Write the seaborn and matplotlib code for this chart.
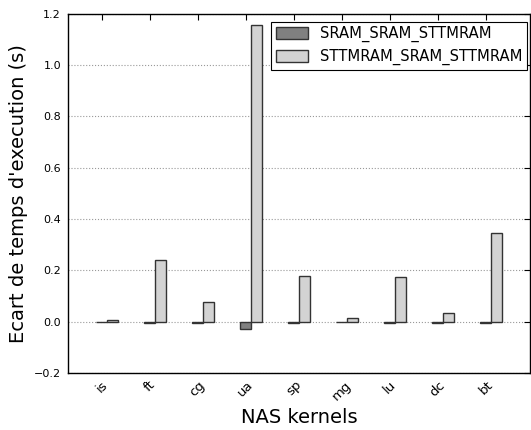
import matplotlib
matplotlib.use("Agg")
import matplotlib.pyplot as plt
import seaborn as sns
import pandas as pd
import numpy as np

kernels = ["is", "ft", "cg", "ua", "sp", "mg", "lu", "dc", "bt"]
sram_sram_sttmram = [-0.002, -0.007, -0.004, -0.030, -0.004, -0.002, -0.004, -0.004, -0.004]
sttmram_sram_sttmram = [0.005, 0.238, 0.078, 1.155, 0.178, 0.013, 0.175, 0.035, 0.345]
series_names = ["SRAM_SRAM_STTMRAM", "STTMRAM_SRAM_STTMRAM"]
colors = ["#808080", "#d3d3d3"]

df = pd.DataFrame({
    "kernel": kernels * 2,
    "value": sram_sram_sttmram + sttmram_sram_sttmram,
    "config": [series_names[0]] * len(kernels) + [series_names[1]] * len(kernels),
})

sns.set_style("white")
plt.rcParams["font.family"] = ["DejaVu Sans"]
plt.rcParams["text.color"] = "black"
plt.rcParams["axes.labelcolor"] = "black"
plt.rcParams["xtick.color"] = "black"
plt.rcParams["ytick.color"] = "black"

fig, ax = plt.subplots(figsize=(5.31, 4.30), dpi=100)
fig.subplots_adjust(left=0.128, right=0.998, top=0.968, bottom=0.133)

group_width = 0.46
sns.barplot(data=df, x="kernel", y="value", hue="config", order=kernels,
            hue_order=series_names, palette=colors, width=group_width, gap=0,
            edgecolor="#333333", linewidth=1.0, saturation=1, ax=ax,
            errorbar=None)

shift = group_width / 4
ax.set_xticks(np.arange(len(kernels)) - shift)
ax.set_xticklabels(kernels)
ax.set_xlim(-0.70 - shift, 8.92 - shift)
ax.set_ylim(-0.2, 1.2)
ax.set_yticks([-0.2, 0.0, 0.2, 0.4, 0.6, 0.8, 1.0, 1.2])
ax.set_yticklabels(["\u22120.2", "0.0", "0.2", "0.4", "0.6", "0.8", "1.0", "1.2"])
ax.yaxis.grid(True, linestyle=":", color="#999999", linewidth=0.8)
ax.set_axisbelow(True)

for s in ax.spines.values():
    s.set_visible(True)
    s.set_color("black")
    s.set_linewidth(1.0)

ax.tick_params(axis="both", which="major", direction="in", length=4, width=0.8,
               top=True, right=True, pad=5, color="black")
ax.tick_params(axis="y", labelsize=8)
ax.tick_params(axis="x", labelsize=9.5, pad=4)
plt.setp(ax.get_xticklabels(), rotation=45)

ax.set_xlabel("NAS kernels", fontsize=14)
ax.set_ylabel("Ecart de temps d'execution (s)", fontsize=14)

leg = ax.legend(loc="upper right", bbox_to_anchor=(0.9935, 0.978), fontsize=10.6,
                frameon=True, fancybox=False, edgecolor="black", framealpha=1,
                borderaxespad=0, handlelength=2.2, handleheight=0.9,
                borderpad=0.3, labelspacing=0.45)
leg.get_frame().set_linewidth(0.8)

fig.savefig("out.png", dpi=100)
